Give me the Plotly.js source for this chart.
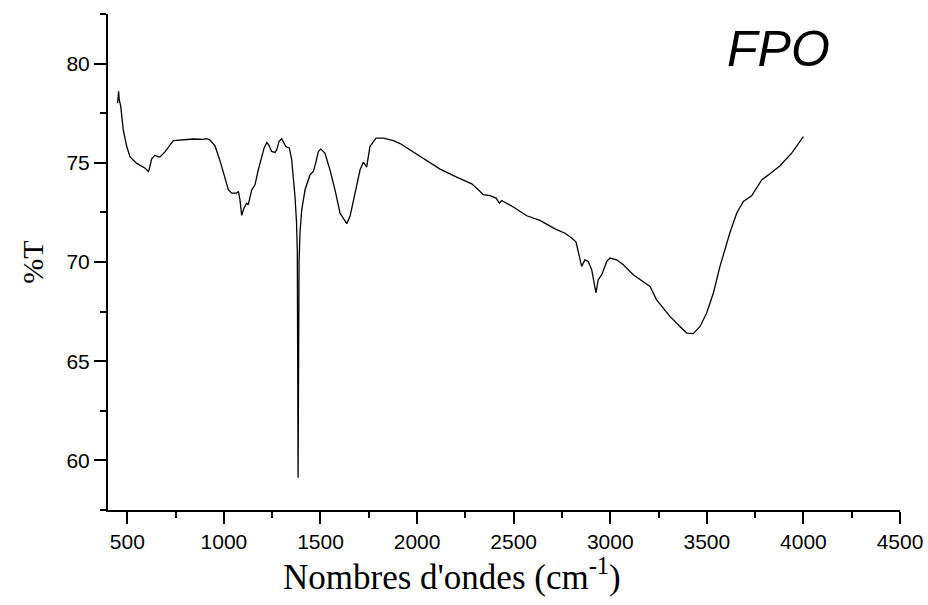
<!DOCTYPE html>
<html>
<head>
<meta charset="utf-8">
<script src="https://cdn.plot.ly/plotly-3.0.1.min.js"></script>
<style>html,body{margin:0;padding:0;background:#fff;}#chart{width:928px;height:605px;}</style>
</head>
<body>
<div id="chart"></div>
<script>
const wavenumber = [450,455,458,466,479,497,514,549,592,603,609,614,626,643,660,669,695,738,773,842,893,911,928,954,980,1006,1023,1040,1066,1075,1083,1092,1104,1118,1126,1144,1161,1178,1196,1208,1222,1232,1247,1265,1275,1285,1299,1311,1321,1339,1351,1368,1376,1380,1384,1389,1394,1403,1420,1446,1463,1475,1489,1501,1523,1549,1575,1601,1636,1653,1679,1705,1722,1739,1756,1773,1787,1825,1877,1912,1963,2032,2119,2205,2283,2317,2343,2378,2409,2426,2438,2498,2568,2636,2714,2766,2802,2823,2836,2852,2869,2886,2904,2916,2926,2938,2956,2982,2999,3033,3068,3119,3171,3206,3240,3309,3361,3396,3430,3465,3499,3534,3568,3619,3655,3689,3732,3784,3827,3879,3939,4000];
const transmittance = [78.0,78.6,78.2,77.84,76.66,75.82,75.3,74.97,74.73,74.61,74.56,74.7,75.2,75.38,75.3,75.3,75.55,76.12,76.15,76.2,76.18,76.22,76.15,75.85,75.1,74.25,73.64,73.47,73.47,73.56,73.14,72.35,72.72,72.97,72.88,73.64,73.89,74.65,75.24,75.74,76.02,75.9,75.57,75.52,75.7,76.07,76.21,76.0,75.82,75.74,75.15,73.3,72.0,70.5,59.13,70.0,71.5,72.63,73.64,74.4,74.56,74.98,75.57,75.69,75.49,74.65,73.64,72.47,71.93,72.3,73.47,74.65,75.03,74.78,75.82,76.07,76.24,76.24,76.12,75.97,75.65,75.19,74.68,74.28,73.94,73.64,73.39,73.34,73.22,72.97,73.1,72.77,72.33,72.1,71.67,71.45,71.2,71.0,70.5,69.78,70.11,70.03,69.61,68.94,68.44,69.11,69.36,70.03,70.2,70.11,69.86,69.36,69.02,68.77,68.09,67.26,66.75,66.42,66.39,66.75,67.43,68.44,69.78,71.46,72.47,73.05,73.34,74.14,74.45,74.85,75.49,76.32];
const xTickVals = [500,1000,1500,2000,2500,3000,3500,4000,4500];
const yTickVals = [60,65,70,75,80];
const sampleLabel = 'FPO';
const xTitle = "Nombres d'ondes (cm<sup>-1</sup>)";
const yTitle = '%T';

const axisCommon = {
  showline: true, linecolor: '#000', linewidth: 2,
  ticks: 'outside', ticklen: 12, tickwidth: 2, tickcolor: '#000',
  showgrid: false, zeroline: false, mirror: false,
  tickfont: {family: 'Liberation Sans, Arial, sans-serif', size: 21, color: '#000'}
};

Plotly.newPlot('chart', [{
  x: wavenumber, y: transmittance, type: 'scatter', mode: 'lines',
  line: {color: '#000', width: 1.3}, hoverinfo: 'skip'
}], {
  width: 928, height: 605,
  margin: {l: 108, r: 28, t: 14, b: 95},
  paper_bgcolor: '#fff', plot_bgcolor: '#fff',
  showlegend: false,
  xaxis: Object.assign({}, axisCommon, {
    range: [400, 4500], tickvals: xTickVals,
    minor: {dtick: 250, tick0: 250, ticklen: 6, tickwidth: 2, tickcolor: '#000', ticks: 'outside', showgrid: false}
  }),
  yaxis: Object.assign({}, axisCommon, {
    range: [57.5, 82.5], tickvals: yTickVals,
    minor: {dtick: 2.5, tick0: 57.5, ticklen: 6, tickwidth: 2, tickcolor: '#000', ticks: 'outside', showgrid: false},
    title: {text: yTitle, font: {family: 'Liberation Serif, Times New Roman, serif', size: 30, color: '#000'}, standoff: 14}
  }),
  annotations: [{
    text: sampleLabel, xref: 'paper', yref: 'paper', x: 0.846, y: 0.929,
    xanchor: 'center', yanchor: 'middle', showarrow: false,
    font: {family: 'Liberation Sans, Arial, sans-serif', size: 50, color: '#000', style: 'italic'}
  }, {
    text: xTitle, xref: 'paper', yref: 'paper', x: 0.434, y: -0.131,
    xanchor: 'center', yanchor: 'middle', showarrow: false,
    font: {family: 'Liberation Serif, Times New Roman, serif', size: 35, color: '#000'}
  }]
}, {staticPlot: true});
</script>
</body>
</html>
